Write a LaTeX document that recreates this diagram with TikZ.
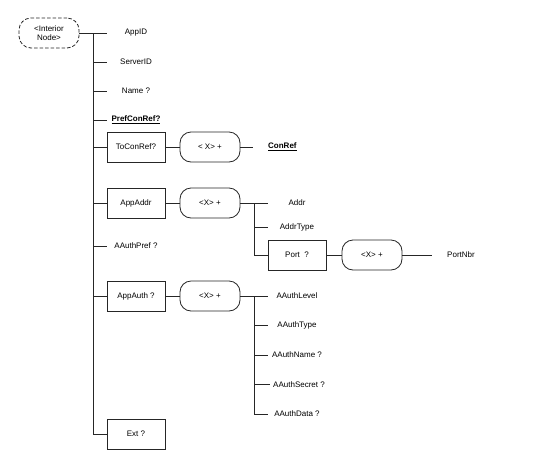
\documentclass[tikz,border=0pt]{standalone}
\usepackage{fontspec}
\setmainfont{Liberation Sans}
\usetikzlibrary{calc}
\tikzset{
  elem/.style={draw=black!85,line width=0.8pt,minimum width=58pt,minimum height=30pt,inner sep=0pt,font=\fontsize{8}{9.5}\selectfont},
  leaf/.style={elem,draw=none},
  multi/.style={elem,minimum width=60pt,rounded corners=11pt},
  abstr/.style={elem,minimum width=60pt,dash pattern=on 3.5pt off 2pt,rounded corners=12pt,align=center},
  link/.style={line width=0.8pt,draw=black!85},
  keyref/.style={font=\fontsize{8}{9.5}\selectfont\bfseries}
}

\begin{document}
\begin{tikzpicture}[x=1pt,y=-1pt]
  \useasboundingbox[fill=white] (0,0) rectangle (548,474);
  % root and its trunk
  \node[abstr] (inode) at (49,33) {<Interior\\Node>};
  \coordinate (trunk) at (93,33);
  \node[leaf] (appid) at (136,33) {AppID};
  \node[leaf] (serverid) at (136,62) {ServerID};
  \node[leaf] (name) at (136,91) {Name ?};
  \node[leaf,keyref] (prefconref) at (136,120) {\underline{PrefConRef?}};
  \node[elem] (toconref) at (136,147) {ToConRef?};
  \node[elem] (appaddr) at (136,203) {AppAddr};
  \node[leaf] (aauthpref) at (136,246) {AAuthPref ?};
  \node[elem] (appauth) at (136,296) {AppAuth ?};
  \node[elem] (ext) at (136,434) {Ext ?};
  \draw[link] (inode.east) -- (appid.west);
  \draw[link] (trunk) |- (ext.west);
  \foreach \n in {serverid,name,prefconref,toconref,appaddr,aauthpref,appauth}
    \draw[link] (trunk |- \n.west) -- (\n.west);

  % ToConRef
  \node[multi] (tcx) at (210,147) {< X> +};
  \node[leaf,keyref,anchor=west] (conref) at (253,147) {\underline{ConRef}};
  \draw[link] (toconref) -- (tcx) -- (conref.west);

  % AppAddr
  \node[multi] (aax) at (210,203) {<X> +};
  \node[leaf] (addr) at (297,203) {Addr};
  \node[leaf] (addrtype) at (297,227) {AddrType};
  \node[elem] (port) at (297,255) {Port\ \ ?};
  \node[multi] (px) at (372,255) {<X> +};
  \node[leaf] (portnbr) at (461,255) {PortNbr};
  \coordinate (aaj) at (254,203);
  \draw[link] (appaddr) -- (aax) -- (addr.west);
  \draw[link] (aaj) |- (port.west);
  \draw[link] (aaj |- addrtype.west) -- (addrtype.west);
  \draw[link] (port) -- (px) -- (portnbr.west);

  % AppAuth
  \node[multi] (aux) at (210,296) {<X> +};
  \node[leaf] (aauthlevel) at (297,296) {AAuthLevel};
  \node[leaf] (aauthtype) at (297,325.5) {AAuthType};
  \node[leaf] (aauthname) at (297,355) {AAuthName ?};
  \node[leaf] (aauthsecret) at (299,384.5) {AAuthSecret ?};
  \node[leaf] (aauthdata) at (297,414) {AAuthData ?};
  \coordinate (auj) at (254,296);
  \draw[link] (appauth) -- (aux) -- (aauthlevel.west);
  \draw[link] (auj) |- (aauthdata.west);
  \foreach \n in {aauthtype,aauthname,aauthsecret}
    \draw[link] (auj |- \n.west) -- (\n.west);
\end{tikzpicture}
\end{document}
